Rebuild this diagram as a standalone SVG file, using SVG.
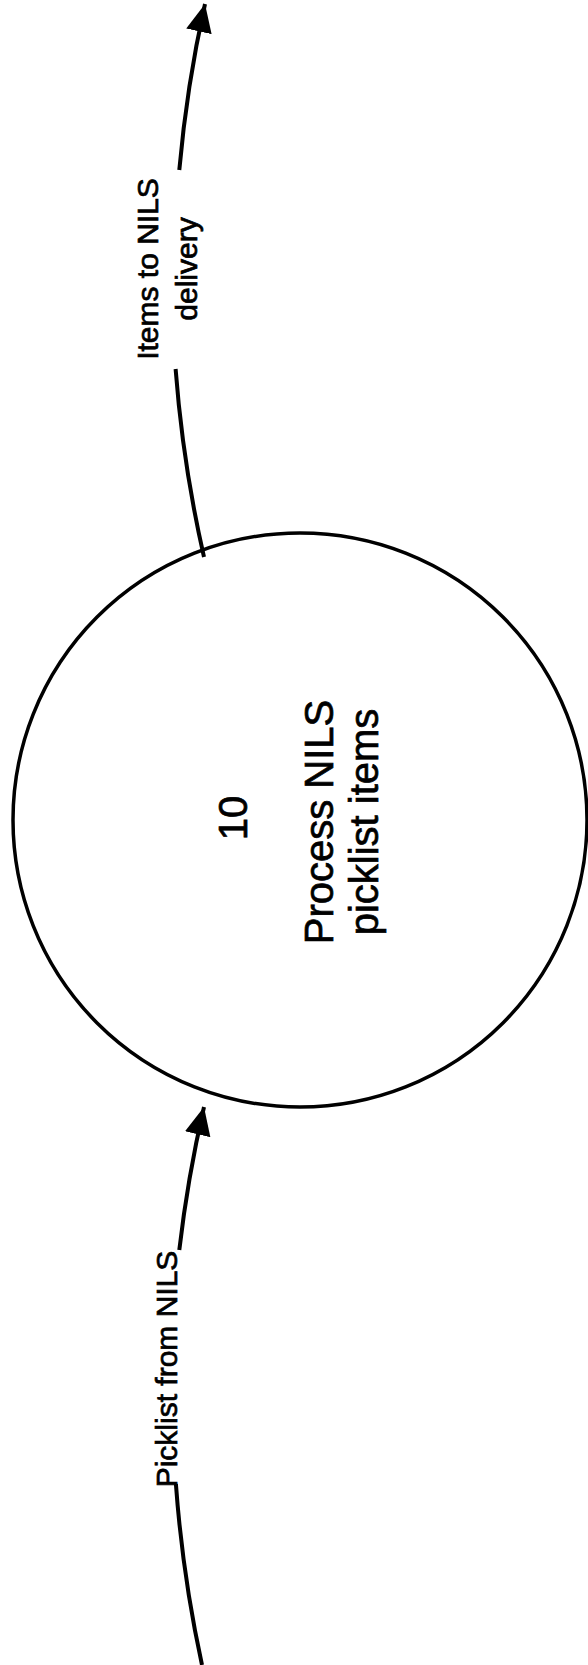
<svg xmlns="http://www.w3.org/2000/svg" width="588" height="1665" viewBox="0 0 588 1665">
<style>
.t{font-family:"Liberation Sans",Arial,sans-serif;fill:#000;stroke:#000;stroke-width:0.7}
.lbl{font-size:30px}
.in{font-size:40px}
.c{fill:none;stroke:#000;stroke-width:4}
</style>
<defs>
<marker id="ah" viewBox="0 0 28 26" refX="28" refY="13" markerUnits="userSpaceOnUse" markerWidth="28" markerHeight="26" orient="auto">
<path d="M0,0 L28,13 L0,26 Z" fill="#000"/>
</marker>
</defs>
<rect width="588" height="1665" fill="#fff"/>
<g id="process10">
<circle cx="300" cy="820" r="287" fill="none" stroke="#000" stroke-width="3.5"/>
<text class="t in" text-anchor="middle" transform="translate(247,818) rotate(-90)">10</text>
<text class="t in" text-anchor="middle" transform="translate(333,822) rotate(-90)">Process NILS</text>
<text class="t in" text-anchor="middle" transform="translate(378,822) rotate(-90)">picklist items</text>
</g>
<g id="connectors">
<path class="c" d="M204,557 A1280,1280 0 0 1 175.6,369"/>
<path class="c" d="M179.3,170 A1280,1280 0 0 1 205,4" marker-end="url(#ah)"/>
<path class="c" d="M202,1665 A1298,1298 0 0 1 175.9,1484"/>
<path class="c" d="M179.3,1250 A1298,1298 0 0 1 204,1107" marker-end="url(#ah)"/>
</g>
<g id="label-out">
<text class="t lbl" text-anchor="middle" transform="translate(158,269) rotate(-90)">Items to NILS</text>
<text class="t lbl" text-anchor="middle" transform="translate(197,269) rotate(-90)">delivery</text>
</g>
<g id="label-in">
<text class="t lbl" text-anchor="middle" transform="translate(177,1369) rotate(-90)">Picklist from NILS</text>
</g>
</svg>
